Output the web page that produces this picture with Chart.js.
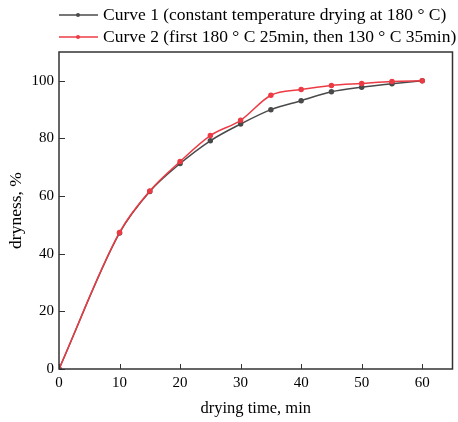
<!DOCTYPE html>
<html>
<head>
<meta charset="utf-8">
<script src="https://cdn.jsdelivr.net/npm/chart.js@4"></script>
<style>
  body { margin: 0; background: #fff; }
  #wrap { width: 458px; height: 422px; }
</style>
</head>
<body>
<div id="wrap"><canvas id="myChart"></canvas></div>
<script>
// data
var times = [0, 10, 15, 20, 25, 30, 35, 40, 45, 50, 55, 60];
var curve1 = [0, 47.2, 61.6, 71.3, 79.2, 85.0, 90.0, 93.1, 96.2, 97.8, 99.0, 100];
var curve2 = [0, 47.4, 61.8, 72.0, 81.0, 86.3, 95.0, 97.0, 98.4, 99.1, 99.8, 100];
var seriesNames = [
    'Curve 1 (constant temperature drying at 180 \u00b0 C)',
    'Curve 2 (first 180 \u00b0 C 25min, then 130 \u00b0 C 35min)'
];
var xTicks = [0, 10, 20, 30, 40, 50, 60];
var yTicks = [0, 20, 40, 60, 80, 100];

var serif = '"Liberation Serif", "Times New Roman", serif';
var colors = ['#4a4a4a', '#ec3b44'];

function toPoints(ys) {
    return times.map(function (t, i) { return { x: t, y: ys[i] }; });
}

// frame + inward ticks + legend
var framePlugin = {
    id: 'frame',
    afterDatasetsDraw: function (chart) {
        var c = chart.ctx, a = chart.chartArea;
        var xs = chart.scales.x, ys = chart.scales.y;
        c.save();
        c.strokeStyle = '#333';
        c.lineWidth = 1.5;
        c.strokeRect(a.left, a.top, a.right - a.left, a.bottom - a.top);
        c.lineWidth = 1;
        c.beginPath();
        xTicks.forEach(function (v) {
            var px = Math.round(xs.getPixelForValue(v)) + 0.5;
            c.moveTo(px, a.bottom);
            c.lineTo(px, a.bottom - 5);
        });
        yTicks.forEach(function (v) {
            var py = Math.round(ys.getPixelForValue(v)) + 0.5;
            c.moveTo(a.left, py);
            c.lineTo(a.left + 6, py);
        });
        c.stroke();

        // legend
        c.font = '17.5px ' + serif;
        c.textBaseline = 'middle';
        [15, 37].forEach(function (y, i) {
            c.strokeStyle = colors[i];
            c.lineWidth = 1.5;
            c.beginPath();
            c.moveTo(59, y);
            c.lineTo(98, y);
            c.stroke();
            c.fillStyle = colors[i];
            c.beginPath();
            c.arc(78, y, 2, 0, Math.PI * 2);
            c.fill();
            c.fillStyle = '#000';
            c.fillText(seriesNames[i], 103, y);
        });
        c.restore();
    }
};

var ctx = document.getElementById('myChart');
var myChart = new Chart(ctx, {
    type: 'line',
    data: {
        datasets: [{
            label: seriesNames[0],
            data: toPoints(curve1),
            borderColor: colors[0],
            backgroundColor: colors[0],
            borderWidth: 1.5,
            pointRadius: 2,
            cubicInterpolationMode: 'monotone',
            order: 1
        }, {
            label: seriesNames[1],
            data: toPoints(curve2),
            borderColor: colors[1],
            backgroundColor: colors[1],
            borderWidth: 1.5,
            pointRadius: 2,
            cubicInterpolationMode: 'monotone',
            order: 0
        }]
    },
    options: {
        responsive: true,
        maintainAspectRatio: false,
        animation: false,
        layout: { padding: { top: 52, right: 5, left: 0, bottom: 0 } },
        plugins: {
            legend: { display: false },
            tooltip: { enabled: false }
        },
        scales: {
            x: {
                type: 'linear',
                min: 0,
                max: 65,
                afterBuildTicks: function (s) { s.ticks = xTicks.map(function (v) { return { value: v }; }); },
                afterFit: function (s) { s.height = 53; },
                grid: { display: false, drawTicks: false },
                border: { display: false },
                ticks: { color: '#000', font: { family: serif, size: 15 }, padding: 5, maxRotation: 0 },
                title: { display: true, text: 'drying time, min', color: '#000', font: { family: serif, size: 16.5 }, padding: { top: 8, bottom: 3 } }
            },
            y: {
                min: 0,
                max: 110,
                afterBuildTicks: function (s) { s.ticks = yTicks.map(function (v) { return { value: v }; }); },
                afterFit: function (s) { s.width = 59; },
                grid: { display: false, drawTicks: false },
                border: { display: false },
                ticks: { color: '#000', font: { family: serif, size: 15 }, padding: 5 },
                title: { display: true, text: 'dryness, %', color: '#000', font: { family: serif, size: 17.5 }, padding: { top: 6, bottom: 4 } }
            }
        }
    },
    plugins: [framePlugin]
});
</script>
</body>
</html>
